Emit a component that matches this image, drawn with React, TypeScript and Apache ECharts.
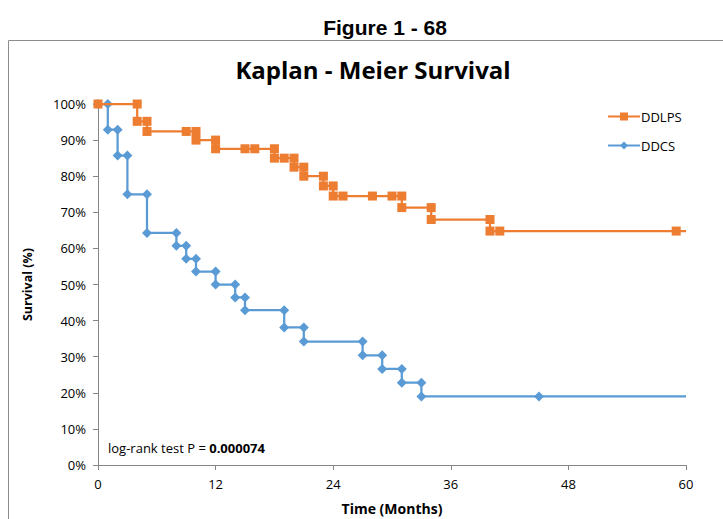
import React, { useEffect, useRef } from "react";
import * as echarts from "echarts";

// Kaplan-Meier step points (time in months, survival in %)
const ddlpsTimes = [0, 4, 4, 5, 5, 9, 10, 10, 12, 12, 15, 16, 18, 18, 19, 20, 20, 21, 21, 23, 23, 24, 24, 25, 28, 30, 31, 31, 34, 34, 40, 40, 41, 59, 60];
const ddlpsSurvival = [100, 100, 95.2, 95.2, 92.4, 92.4, 92.4, 90.0, 90.0, 87.6, 87.6, 87.6, 87.6, 85.0, 85.0, 85.0, 82.5, 82.5, 80.0, 80.0, 77.3, 77.3, 74.5, 74.5, 74.5, 74.5, 74.5, 71.3, 71.3, 68.0, 68.0, 64.8, 64.8, 64.8, 64.8];

const ddcsTimes = [0, 1, 1, 2, 2, 3, 3, 5, 5, 8, 8, 9, 9, 10, 10, 12, 12, 14, 14, 15, 15, 19, 19, 21, 21, 27, 27, 29, 29, 31, 31, 33, 33, 45, 60];
const ddcsSurvival = [100, 100, 92.9, 92.9, 85.7, 85.7, 75.0, 75.0, 64.3, 64.3, 60.7, 60.7, 57.1, 57.1, 53.6, 53.6, 50.0, 50.0, 46.4, 46.4, 42.9, 42.9, 38.1, 38.1, 34.2, 34.2, 30.4, 30.4, 26.6, 26.6, 22.8, 22.8, 19.0, 19.0, 19.0];

const xTicks = { min: 0, max: 60, interval: 12 };
const yTicks = { min: 0, max: 100, interval: 10 };

const figureTitle = "Figure 1 - 68";
const chartTitle = "Kaplan - Meier Survival";
const pLabel = "log-rank test P = ";
const pValue = "0.000074";

const ORANGE = "#ED7D31";
const BLUE = "#5B9BD5";
const FONT = "'Open Sans', 'Noto Sans', sans-serif";

function buildData(times: number[], vals: number[]) {
  return times.map((t, i) =>
    i === times.length - 1
      ? { value: [t, vals[i]], symbol: "none" }
      : { value: [t, vals[i]] }
  );
}

export default function App() {
  const ref = useRef<HTMLDivElement>(null);
  useEffect(() => {
    if (!ref.current) return;
    const chart = echarts.init(ref.current, undefined, { renderer: "svg" });
    chart.setOption({
      animation: false,
      backgroundColor: "#ffffff",
      title: [
        {
          text: figureTitle,
          left: 380,
          top: 12,
          textAlign: "center",
          textStyle: { fontFamily: "'Liberation Sans', Arial, sans-serif", fontWeight: "bold", fontSize: 21, color: "#000" },
        },
        {
          text: chartTitle,
          left: 368,
          top: 52,
          textAlign: "center",
          textStyle: { fontFamily: FONT, fontWeight: "bold", fontSize: 24, color: "#000" },
        },
      ],
      graphic: [
        {
          type: "rect",
          shape: { x: 8.5, y: 40.5, width: 800, height: 600 },
          style: { fill: "none", stroke: "#8c8c8c", lineWidth: 1 },
          silent: true,
        },
        {
          type: "text",
          x: 108,
          y: 448,
          style: {
            text: "{n|" + pLabel + "}{b|" + pValue + "}",
            verticalAlign: "middle",
            rich: {
              n: { fontFamily: FONT, fontSize: 13, color: "#000" },
              b: { fontFamily: FONT, fontSize: 13, fontWeight: "bold", color: "#000" },
            },
          },
        },
      ],
      legend: {
        orient: "vertical",
        left: 602,
        top: 105,
        itemGap: 16,
        itemWidth: 32,
        itemHeight: 10,
        textStyle: { fontFamily: FONT, fontSize: 13, color: "#000", padding: [0, 0, 0, -4] },
        data: ["DDLPS", "DDCS"],
      },
      grid: { left: 98, right: 37, top: 104, bottom: 54, containLabel: false, outerBoundsMode: "none" },
      xAxis: {
        type: "value",
        min: xTicks.min,
        max: xTicks.max,
        interval: xTicks.interval,
        name: "Time (Months)",
        nameLocation: "middle",
        nameGap: 36,
        nameTextStyle: { fontFamily: FONT, fontWeight: "bold", fontSize: 14, color: "#000" },
        axisLine: { lineStyle: { color: "#868686", width: 1 } },
        axisTick: { show: true, length: 5, lineStyle: { color: "#868686" } },
        axisLabel: { fontFamily: FONT, fontSize: 13, color: "#000", margin: 12 },
        splitLine: { show: false },
      },
      yAxis: {
        type: "value",
        min: yTicks.min,
        max: yTicks.max,
        interval: yTicks.interval,
        name: "Survival (%)",
        nameLocation: "middle",
        nameGap: 64,
        nameRotate: 90,
        nameTextStyle: { fontFamily: FONT, fontWeight: "bold", fontSize: 12.5, color: "#000" },
        axisLine: { show: true, lineStyle: { color: "#868686", width: 1 } },
        axisTick: { show: true, length: 5, lineStyle: { color: "#868686" } },
        axisLabel: { fontFamily: FONT, fontSize: 13, color: "#000", margin: 12, formatter: "{value}%" },
        splitLine: { show: false },
      },
      series: [
        {
          name: "DDLPS",
          type: "line",
          data: buildData(ddlpsTimes, ddlpsSurvival),
          symbol: "rect",
          symbolSize: 9,
          showAllSymbol: true,
          color: ORANGE,
          lineStyle: { color: ORANGE, width: 2.25 },
          itemStyle: { color: ORANGE },
          z: 3,
        },
        {
          name: "DDCS",
          type: "line",
          data: buildData(ddcsTimes, ddcsSurvival),
          symbol: "diamond",
          symbolSize: 10,
          showAllSymbol: true,
          color: BLUE,
          lineStyle: { color: BLUE, width: 2.25 },
          itemStyle: { color: BLUE },
          z: 2,
        },
      ],
    });
    return () => chart.dispose();
  }, []);
  return (
    <div
      ref={ref}
      style={{ position: "fixed", left: 0, top: 0, width: 723, height: 519 }}
    />
  );
}
